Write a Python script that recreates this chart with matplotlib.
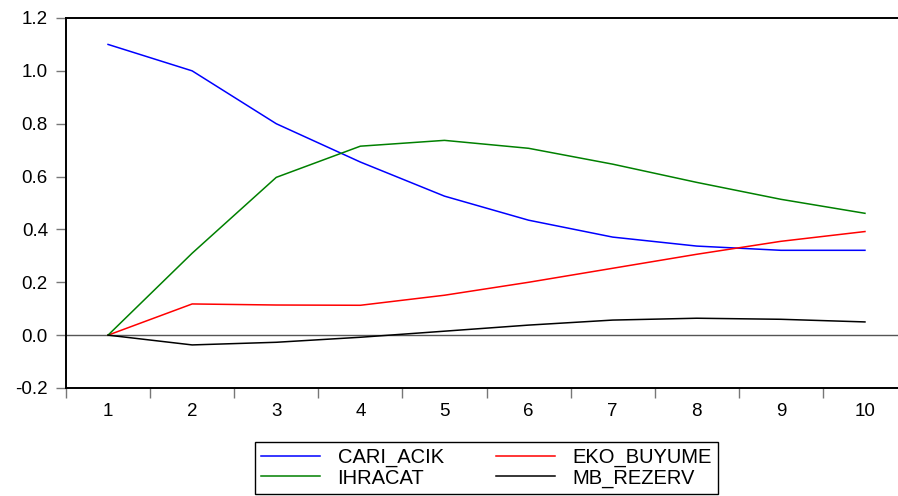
import matplotlib
matplotlib.use("Agg")
import matplotlib.pyplot as plt
from matplotlib.ticker import FixedLocator, FormatStrFormatter

plt.rcParams["font.family"] = ["Liberation Sans", "DejaVu Sans"]
plt.rcParams["axes.unicode_minus"] = False

periods = [1, 2, 3, 4, 5, 6, 7, 8, 9, 10]
cari_acik = [1.100, 1.000, 0.800, 0.655, 0.526, 0.435, 0.371, 0.337, 0.321, 0.321]
eko_buyume = [0.0, 0.118, 0.114, 0.113, 0.151, 0.200, 0.253, 0.306, 0.355, 0.392]
ihracat = [0.0, 0.310, 0.597, 0.715, 0.737, 0.707, 0.647, 0.578, 0.514, 0.461]
mb_rezerv = [0.0, -0.037, -0.027, -0.008, 0.015, 0.038, 0.057, 0.064, 0.060, 0.050]
y_ticks = [-0.2, 0.0, 0.2, 0.4, 0.6, 0.8, 1.0, 1.2]

W, H = 898, 496
fig = plt.figure(figsize=(W / 100, H / 100), dpi=100)
ax = fig.add_axes([66 / W, 1 - 388 / H, (907 - 66) / W, 370 / H])

l1, = ax.plot(periods, cari_acik, color="#0000ff", lw=1.1)
l2, = ax.plot(periods, eko_buyume, color="#ff0000", lw=1.1)
l3, = ax.plot(periods, ihracat, color="#008000", lw=1.1)
l4, = ax.plot(periods, mb_rezerv, color="black", lw=1.1)
ax.axhline(0, color="#555555", lw=1.0, zorder=0)

ax.set_xlim(0.5, 10.5)
ax.set_ylim(-0.2, 1.2)

ax.yaxis.set_major_locator(FixedLocator(y_ticks))
ax.yaxis.set_major_formatter(FormatStrFormatter("%.1f"))
ax.tick_params(axis="y", direction="out", length=7, width=1, color="#777777",
               pad=6, labelsize=13.5)

ax.set_xticks(periods)
ax.set_xticklabels([str(p) for p in periods])
ax.xaxis.set_minor_locator(FixedLocator([p - 0.5 for p in periods] + [10.5]))
ax.tick_params(axis="x", which="major", length=0, pad=11, labelsize=13.5)
ax.tick_params(axis="x", which="minor", direction="out", length=7, width=1,
               color="#777777")

for side in ["top", "left", "bottom"]:
    ax.spines[side].set_linewidth(1.4)
    ax.spines[side].set_color("black")
ax.spines["right"].set_visible(False)

leg = fig.legend([l1, l3, l2, l4], ["CARI_ACIK", "IHRACAT", "EKO_BUYUME", "MB_REZERV"],
                 ncol=2, loc="center", bbox_to_anchor=(486.5 / W, 1 - 468 / H),
                 fontsize=14.5, frameon=True, fancybox=False, framealpha=1,
                 edgecolor="black", handlelength=2.95, handletextpad=0.85,
                 columnspacing=2.6, labelspacing=0.05, borderpad=0.3,
                 borderaxespad=0)
leg.get_frame().set_linewidth(1.0)

fig.savefig("out.png", dpi=100)
